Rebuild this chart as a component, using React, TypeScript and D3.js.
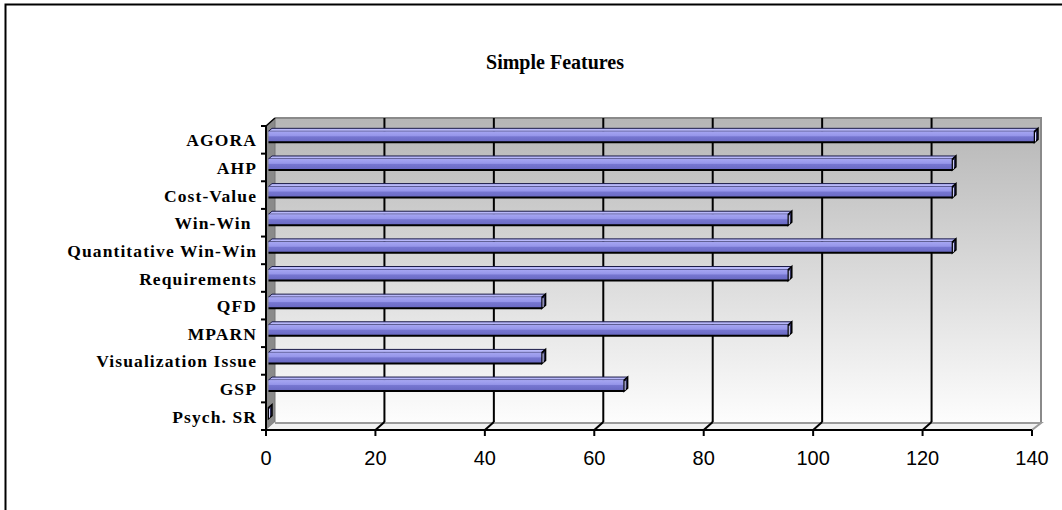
import { useEffect, useRef } from 'react'
import * as d3 from 'd3'

const categories = [
  'AGORA',
  'AHP',
  'Cost-Value',
  'Win-Win ',
  'Quantitative Win-Win',
  'Requirements',
  'QFD',
  'MPARN',
  'Visualization Issue',
  'GSP',
  'Psych. SR',
]
const values = [140, 125, 125, 95, 125, 95, 50, 95, 50, 65, 0]
const xTicks = [0, 20, 40, 60, 80, 100, 120, 140]
const title = 'Simple Features'

const WIDTH = 1062
const HEIGHT = 510

export default function App() {
  const svgRef = useRef<SVGSVGElement>(null)

  useEffect(() => {
    if (!svgRef.current) return
    const svg = d3.select(svgRef.current)
    svg.selectAll('*').remove()

    // front plane of the 3D plot and the depth offset of the walls
    const left = 266
    const right = 1032
    const top = 126
    const bottom = 430
    const dx = 9
    const dy = -8

    const x = d3.scaleLinear().domain([0, 140]).range([left, right])
    const y = d3.scaleBand<string>().domain(categories).range([top, bottom]).padding(0)

    const defs = svg.append('defs')
    const wallGrad = defs
      .append('linearGradient')
      .attr('id', 'wall-grad')
      .attr('x1', '0%')
      .attr('x2', '0%')
      .attr('y1', '0%')
      .attr('y2', '100%')
    wallGrad.append('stop').attr('offset', '0%').attr('stop-color', '#b6b6b6')
    wallGrad.append('stop').attr('offset', '100%').attr('stop-color', '#fdfdfd')

    const barGrad = defs
      .append('linearGradient')
      .attr('id', 'bar-grad')
      .attr('x1', '0%')
      .attr('x2', '0%')
      .attr('y1', '0%')
      .attr('y2', '100%')
    barGrad.append('stop').attr('offset', '0%').attr('stop-color', '#a6a6f2')
    barGrad.append('stop').attr('offset', '40%').attr('stop-color', '#9696ea')
    barGrad.append('stop').attr('offset', '50%').attr('stop-color', '#7676d0')
    barGrad.append('stop').attr('offset', '100%').attr('stop-color', '#6868c2')

    // outer frame
    svg
      .append('rect')
      .attr('x', 5.5)
      .attr('y', 4.5)
      .attr('width', 1070)
      .attr('height', 520)
      .attr('fill', 'white')
      .attr('stroke', '#000')
      .attr('stroke-width', 2)

    svg
      .append('text')
      .attr('x', 555)
      .attr('y', 69)
      .attr('text-anchor', 'middle')
      .attr('font-family', '"Liberation Serif", "Times New Roman", serif')
      .attr('font-weight', 'bold')
      .attr('font-size', 20)
      .text(title)

    // back wall
    svg
      .append('rect')
      .attr('x', left + dx)
      .attr('y', top + dy)
      .attr('width', right - left)
      .attr('height', bottom - top)
      .attr('fill', 'url(#wall-grad)')
    svg
      .append('path')
      .attr('d', `M${left + dx},${top + dy}H${right + dx}V${bottom + dy}`)
      .attr('fill', 'none')
      .attr('stroke', '#8a8a8a')
      .attr('stroke-width', 2)

    // side wall
    svg
      .append('path')
      .attr('d', `M${left},${top}L${left + dx},${top + dy}V${bottom + dy}L${left},${bottom}Z`)
      .attr('fill', '#8a8a8a')
      .attr('stroke', '#777')
      .attr('stroke-width', 1)

    // floor
    svg
      .append('path')
      .attr('d', `M${left},${bottom}L${left + dx},${bottom + dy}H${right + dx}L${right},${bottom}Z`)
      .attr('fill', '#f2f2f2')
    svg
      .append('path')
      .attr('d', `M${left + dx},${bottom + dy + 1}H${right + dx}L${right},${bottom}`)
      .attr('fill', 'none')
      .attr('stroke', '#9a9a9a')
      .attr('stroke-width', 2)

    // gridlines on back wall and floor
    const inner = xTicks.filter((t) => t > 0 && t < 140)
    svg
      .append('g')
      .selectAll('line')
      .data(inner)
      .enter()
      .append('line')
      .attr('x1', (d) => x(d) + dx)
      .attr('x2', (d) => x(d) + dx)
      .attr('y1', top + dy)
      .attr('y2', bottom + dy)
      .attr('stroke', '#000')
      .attr('stroke-width', 2)
    svg
      .append('g')
      .selectAll('line')
      .data(inner)
      .enter()
      .append('line')
      .attr('x1', (d) => x(d) + dx)
      .attr('x2', (d) => x(d))
      .attr('y1', bottom + dy)
      .attr('y2', bottom)
      .attr('stroke', '#000')
      .attr('stroke-width', 2)

    // bars
    const bars = svg
      .append('g')
      .selectAll('g')
      .data(categories.map((c, i) => ({ c, v: values[i] })))
      .enter()
      .append('g')
    const cy = (c: string) => (y(c) || 0) + y.bandwidth() / 2
    const bx = 2.5
    const tx = 3.5
    const ty = -3
    bars
      .append('path')
      .attr('d', (d) => {
        const x0 = x(0) + bx
        const x1 = x(d.v) + bx
        const y0 = cy(d.c) - 8.5
        return `M${x0},${y0}L${x0 + tx},${y0 + ty}H${x1 + tx}L${x1},${y0}Z`
      })
      .attr('fill', '#b8b8fa')
      .attr('stroke', '#1c1c48')
      .attr('stroke-width', 1)
    bars
      .append('rect')
      .attr('x', x(0) + bx)
      .attr('y', (d) => cy(d.c) - 8.5)
      .attr('width', (d) => x(d.v) - x(0))
      .attr('height', 11)
      .attr('fill', 'url(#bar-grad)')
    bars
      .append('line')
      .attr('x1', x(0) + bx)
      .attr('x2', (d) => x(d.v) + bx)
      .attr('y1', (d) => cy(d.c) + 2.5)
      .attr('y2', (d) => cy(d.c) + 2.5)
      .attr('stroke', '#000')
      .attr('stroke-width', 2)
    bars
      .append('path')
      .attr('d', (d) => {
        const x1 = x(d.v) + bx
        const y0 = cy(d.c) - 8.5
        return `M${x1},${y0}L${x1 + tx},${y0 + ty}V${y0 + ty + 11}L${x1},${y0 + 11}Z`
      })
      .attr('fill', '#2c2c58')
      .attr('stroke', '#000')
      .attr('stroke-width', 1.5)
    bars
      .append('path')
      .attr('d', (d) => {
        const x1 = x(d.v) + bx
        const y0 = cy(d.c) - 8.5
        return `M${x1 + 1},${y0 + 1}V${y0 + 10}`
      })
      .attr('stroke', '#d8d8ff')
      .attr('stroke-width', 1)

    // axes
    svg
      .append('line')
      .attr('x1', left)
      .attr('x2', left)
      .attr('y1', top)
      .attr('y2', bottom + 6)
      .attr('stroke', '#000')
      .attr('stroke-width', 2)
    svg
      .append('line')
      .attr('x1', left)
      .attr('x2', left + dx)
      .attr('y1', top)
      .attr('y2', top + dy)
      .attr('stroke', '#000')
      .attr('stroke-width', 1.5)
    svg
      .append('line')
      .attr('x1', left - 5)
      .attr('x2', right)
      .attr('y1', bottom)
      .attr('y2', bottom)
      .attr('stroke', '#000')
      .attr('stroke-width', 2)

    const boundaries = categories.map((c) => y(c) || 0)
    svg
      .append('g')
      .selectAll('line')
      .data(boundaries)
      .enter()
      .append('line')
      .attr('x1', left - 5)
      .attr('x2', left)
      .attr('y1', (d) => d)
      .attr('y2', (d) => d)
      .attr('stroke', '#000')
      .attr('stroke-width', 2)

    svg
      .append('g')
      .selectAll('line')
      .data(xTicks)
      .enter()
      .append('line')
      .attr('x1', (d) => x(d))
      .attr('x2', (d) => x(d))
      .attr('y1', bottom)
      .attr('y2', bottom + 6)
      .attr('stroke', '#000')
      .attr('stroke-width', 2)

    svg
      .append('g')
      .selectAll('text')
      .data(xTicks)
      .enter()
      .append('text')
      .attr('x', (d) => x(d))
      .attr('y', 465)
      .attr('text-anchor', 'middle')
      .attr('font-family', '"Liberation Sans", Arial, sans-serif')
      .attr('font-size', 20)
      .text((d) => d)

    svg
      .append('g')
      .selectAll('text')
      .data(categories)
      .enter()
      .append('text')
      .attr('x', 257)
      .attr('y', (d) => cy(d) + 6.5)
      .attr('text-anchor', 'end')
      .attr('font-family', '"Liberation Serif", "Times New Roman", serif')
      .attr('font-weight', 'bold')
      .attr('font-size', 17.5)
      .attr('letter-spacing', 1.1)
      .style('white-space', 'pre')
      .text((d) => d)
  }, [])

  return (
    <svg
      ref={svgRef}
      width={WIDTH}
      height={HEIGHT}
      style={{ position: 'absolute', left: 0, top: 0, display: 'block', background: '#fff' }}
    />
  )
}
